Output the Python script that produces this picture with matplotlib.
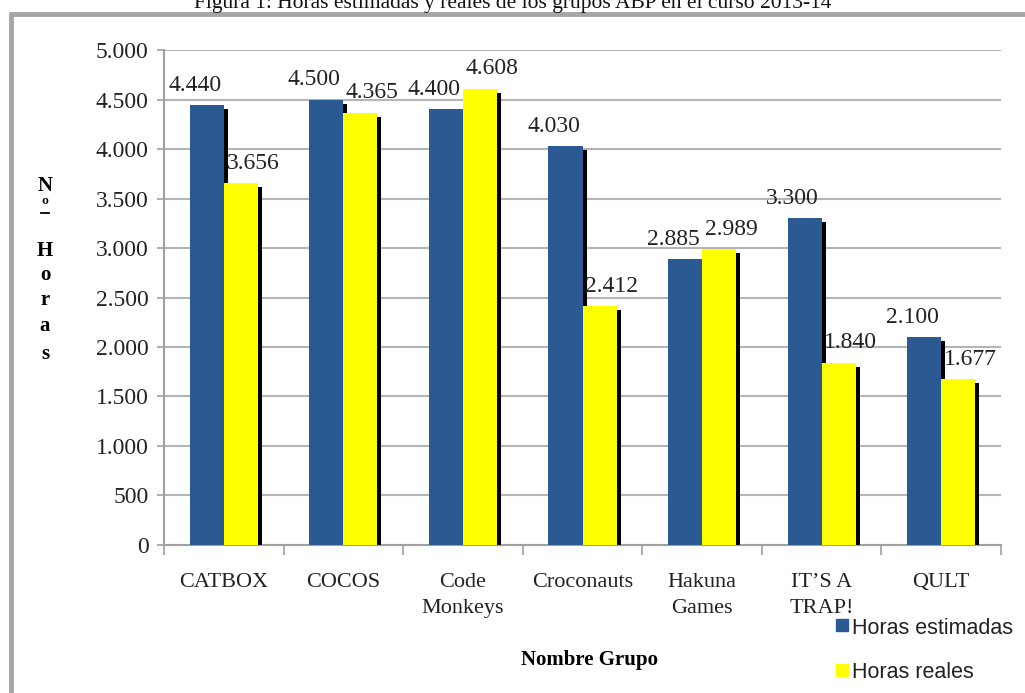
import matplotlib
matplotlib.use("Agg")
import numpy as np
import matplotlib.pyplot as plt
from matplotlib.transforms import offset_copy
from matplotlib.lines import Line2D
from matplotlib.patches import Rectangle

grupos = ["CATBOX", "COCOS", "Code\nMonkeys", "Croconauts", "Hakuna\nGames", "IT\u2019S A\nTRAP!", "QULT"]
estimadas = [4440, 4500, 4400, 4030, 2885, 3300, 2100]
reales = [3656, 4365, 4608, 2412, 2989, 1840, 1677]
yticks = [0, 500, 1000, 1500, 2000, 2500, 3000, 3500, 4000, 4500, 5000]

c_est = "#2a5a91"
c_real = "#ffff00"
serif = "Liberation Serif"
W, H = 1025, 693

def fmt(v):
    return f"{v:,}".replace(",", ".")

fig = plt.figure(figsize=(10.25, 6.93), dpi=100)
ax = fig.add_axes([0.16, 0.2136, 0.8166, 0.7142])

x = np.arange(len(grupos))
w = 0.285
shadow = offset_copy(ax.transData, fig=fig, x=4, y=-4, units="dots")

ax.bar(x - w/2, estimadas, w, color="black", transform=shadow, zorder=2)
ax.bar(x - w/2, estimadas, w, color=c_est, zorder=3, label="Horas estimadas")
ax.bar(x + w/2, reales, w, color="black", transform=shadow, zorder=4)
ax.bar(x + w/2, reales, w, color=c_real, zorder=5, label="Horas reales")

for i in range(len(grupos)):
    ax.text(x[i] - w/2 - 0.1, estimadas[i] + 95, fmt(estimadas[i]), ha="center", va="bottom",
            fontsize=17, family=serif, color="#222222", zorder=6)
    ax.text(x[i] + w/2 + 0.1, reales[i] + 95, fmt(reales[i]), ha="center", va="bottom",
            fontsize=17, family=serif, color="#222222", zorder=6)

ax.set_xlim(-0.5, len(grupos) - 0.5)
ax.set_ylim(0, 5000)
ax.set_yticks(yticks)
ax.set_yticklabels([fmt(v) for v in yticks], family=serif, fontsize=17, color="#222222")
ax.yaxis.grid(True, color="#b5b5b5", linewidth=1.5, zorder=0)
ax.set_axisbelow(True)

ax.set_xticks(x)
ax.set_xticklabels(grupos, family=serif, fontsize=16, color="#222222", linespacing=1.5)
ax.set_xticks(np.arange(-0.5, len(grupos)), minor=True)
ax.tick_params(axis="x", which="major", length=0, pad=20)
ax.tick_params(axis="x", which="minor", length=7, color="#a0a0a0", width=1.2)
ax.tick_params(axis="y", length=5, color="#a0a0a0", width=1.2, pad=6)

for s in ["top", "right"]:
    ax.spines[s].set_visible(False)
for s in ["left", "bottom"]:
    ax.spines[s].set_color("#a0a0a0")
    ax.spines[s].set_linewidth(1.5)

fig.text(0.575, 1 - 660/H, "Nombre Grupo", ha="center", va="center",
         fontsize=15, fontweight="bold", family=serif)

# vertical stacked y label
for ch, yy in [("N", 186), ("\u00ba", 206), ("H", 251), ("o", 275), ("r", 300), ("a", 326), ("s", 354)]:
    fig.text(45/W, 1 - yy/H, ch, ha="center", va="center",
             fontsize=15, fontweight="bold", family=serif)
fig.lines.append(Line2D([41/W, 49/W], [1 - 213/H, 1 - 213/H], transform=fig.transFigure,
                        color="black", linewidth=1.3, figure=fig))

# legend
for yy, col, lab in [(628, c_est, "Horas estimadas"), (673, c_real, "Horas reales")]:
    fig.patches.append(Rectangle((836/W, 1 - (yy + 3)/H), 12/W, 12/H,
                                 transform=fig.transFigure, color=col, figure=fig))
    fig.text(852/W, 1 - yy/H, lab, ha="left", va="center", fontsize=15.5,
             family="Liberation Sans", color="#222222")

# outer frame
fig.lines.append(Line2D([10.5/W, 10.5/W], [0, 1 - 13/H], transform=fig.transFigure,
                        color="#a6a6a6", linewidth=3.5, figure=fig, solid_capstyle="butt"))
fig.lines.append(Line2D([9/W, 1], [1 - 13.5/H, 1 - 13.5/H], transform=fig.transFigure,
                        color="#a6a6a6", linewidth=3.5, figure=fig, solid_capstyle="butt"))

fig.text(0.5, 1 - 8/H, "Figura 1: Horas estimadas y reales de los grupos ABP en el curso 2013-14",
         ha="center", va="baseline", fontsize=15.5, family=serif, color="#111111")

fig.savefig("out.png", dpi=100)
